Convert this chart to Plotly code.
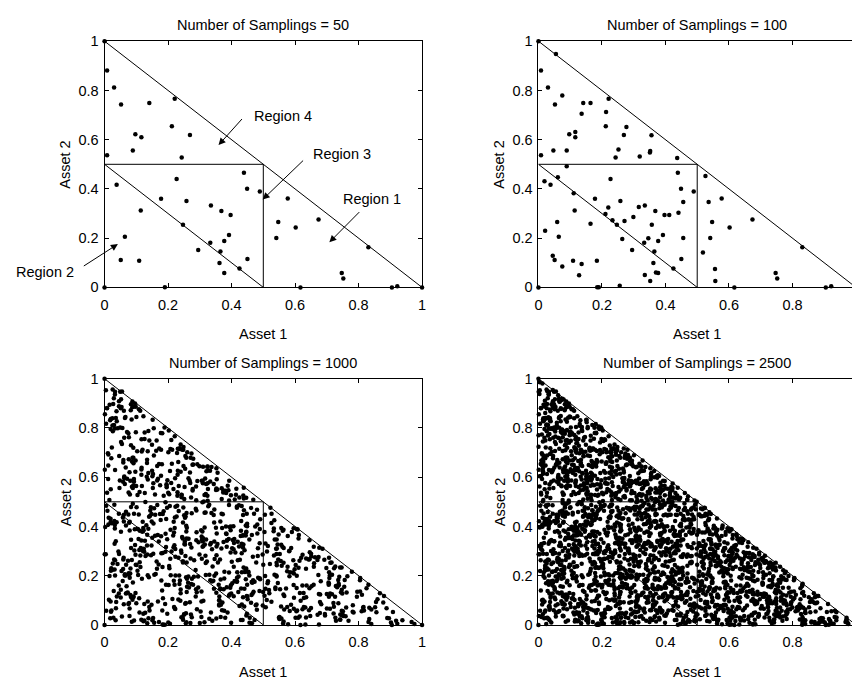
import numpy as np
import plotly.graph_objects as go

# ---------------- data ----------------
# vertices of the feasible triangle that appear as samples in every panel
corner_x = [0.0, 0.0, 1.0]
corner_y = [1.0, 0.0, 0.0]

# first 50 samplings (read from the "= 50" panel)
s50_x = [0.008, 0.030, 0.052, 0.141, 0.221, 0.212, 0.269, 0.097, 0.116, 0.089, 0.008, 0.243,
         0.439, 0.038, 0.227, 0.449, 0.178, 0.258, 0.114, 0.335, 0.368, 0.397, 0.247, 0.064,
         0.392, 0.333, 0.377, 0.295, 0.365, 0.051, 0.109, 0.362, 0.450, 0.425, 0.377, 0.190,
         0.577, 0.547, 0.602, 0.674, 0.541, 0.831, 0.747, 0.752, 0.617, 0.905, 0.922, 0.489]
s50_y = [0.881, 0.812, 0.743, 0.749, 0.766, 0.655, 0.619, 0.622, 0.610, 0.556, 0.537, 0.528,
         0.466, 0.417, 0.440, 0.401, 0.360, 0.351, 0.312, 0.333, 0.310, 0.294, 0.254, 0.206,
         0.213, 0.181, 0.188, 0.152, 0.146, 0.111, 0.108, 0.099, 0.115, 0.077, 0.058, 0.001,
         0.361, 0.266, 0.243, 0.276, 0.201, 0.163, 0.058, 0.036, 0.000, 0.000, 0.005, 0.390]

# samplings 51-100 (extra points visible in the "= 100" panel)
s100_x = [0.055, 0.075, 0.164, 0.136, 0.213, 0.277, 0.116, 0.356, 0.047, 0.252, 0.319, 0.352,
          0.351, 0.437, 0.089, 0.019, 0.061, 0.111, 0.220, 0.316, 0.456, 0.211, 0.412, 0.441,
          0.233, 0.271, 0.299, 0.164, 0.357, 0.059, 0.021, 0.264, 0.346, 0.456, 0.045, 0.075,
          0.136, 0.184, 0.128, 0.335, 0.370, 0.352, 0.185, 0.256, 0.526, 0.536, 0.518, 0.556,
          0.557]
s100_y = [0.948, 0.779, 0.749, 0.705, 0.712, 0.651, 0.631, 0.618, 0.556, 0.560, 0.532, 0.554,
          0.548, 0.526, 0.492, 0.431, 0.447, 0.382, 0.324, 0.327, 0.347, 0.298, 0.294, 0.303,
          0.273, 0.270, 0.286, 0.258, 0.254, 0.266, 0.230, 0.197, 0.200, 0.201, 0.128, 0.085,
          0.095, 0.108, 0.049, 0.050, 0.060, 0.026, 0.001, 0.007, 0.452, 0.347, 0.142, 0.075,
          0.026]

sample_counts = [50, 100, 1000, 2500]
panel_titles = ["Number of Samplings = %d" % n for n in sample_counts]

# The 1000 / 2500 panels are solid clouds whose individual dots cannot be read
# from the picture; they are filled (nested on the readable 100) with a fixed
# uniform draw over the triangle x + y <= 1.
rng = np.random.default_rng(11)
uv = rng.random((2500, 2))
flip = uv.sum(axis=1) > 1
uv[flip] = 1 - uv[flip]
dense_x = list(uv[:, 0])
dense_y = list(uv[:, 1])

base_x = corner_x + s50_x
base_y = corner_y + s50_y
p100_x = base_x + s100_x
p100_y = base_y + s100_y
n3 = sample_counts[2] - len(p100_x)
n4 = sample_counts[3] - sample_counts[2]
p1000_x = p100_x + dense_x[:n3]
p1000_y = p100_y + dense_y[:n3]
p2500_x = p1000_x + dense_x[n3:n3 + n4]
p2500_y = p1000_y + dense_y[n3:n3 + n4]
panel_x = [base_x, p100_x, p1000_x, p2500_x]
panel_y = [base_y, p100_y, p1000_y, p2500_y]

# region boundary segments
seg_outer = ([0, 1], [1, 0])
seg_h = ([0, 0.5], [0.5, 0.5])
seg_v = ([0.5, 0.5], [0, 0.5])
seg_inner = ([0, 0.5], [0.5, 0])

tick_vals = [0, 0.2, 0.4, 0.6, 0.8, 1]
tick_text = ["0", "0.2", "0.4", "0.6", "0.8", "1"]

# ---------------- layout geometry (pixels) ----------------
W, H = 856, 692
unit = 320.5
col_left = [101.5, 539.5]
row_top = [34.0, 379.5]
row_h = 252.0

FONT = "Liberation Sans, Arial, Helvetica, sans-serif"
FS = 14.5

fig = go.Figure()
layout = dict(width=W, height=H, margin=dict(l=0, r=0, t=0, b=0),
              paper_bgcolor="white", plot_bgcolor="white", showlegend=False,
              font=dict(family=FONT, size=FS, color="black"))

annotations = []
for i in range(4):
    r, c = divmod(i, 2)
    xa = "x" if i == 0 else "x%d" % (i + 1)
    ya = "y" if i == 0 else "y%d" % (i + 1)
    x0 = col_left[c]
    x1 = min(x0 + unit, W)
    xmax = (x1 - x0) / unit
    y0 = row_top[r]
    y1 = y0 + row_h
    dom_x = [x0 / W, x1 / W]
    dom_y = [(H - y1) / H, (H - y0) / H]
    full = (x0 + unit) <= W
    layout["xaxis" if i == 0 else "xaxis%d" % (i + 1)] = dict(
        domain=dom_x, range=[0, xmax], anchor=ya, showgrid=False, zeroline=False,
        showline=True, linecolor="black", linewidth=1, mirror="ticks",
        ticks="inside", ticklen=4, tickcolor="black", tickwidth=1,
        tickvals=tick_vals, ticktext=tick_text, tickfont=dict(size=FS, family=FONT),
        ticklabelstandoff=4, fixedrange=True)
    layout["yaxis" if i == 0 else "yaxis%d" % (i + 1)] = dict(
        domain=dom_y, range=[0, 1], anchor=xa, showgrid=False, zeroline=False,
        showline=True, linecolor="black", linewidth=1,
        mirror="ticks" if full else False,
        ticks="inside", ticklen=4, tickcolor="black", tickwidth=1,
        tickvals=tick_vals, ticktext=tick_text, tickfont=dict(size=FS, family=FONT),
        ticklabelstandoff=2, fixedrange=True)

    for sx, sy in (seg_outer, seg_h, seg_v, seg_inner):
        fig.add_trace(go.Scatter(x=sx, y=sy, mode="lines", xaxis=xa, yaxis=ya,
                                 line=dict(color="black", width=1), hoverinfo="skip"))
    fig.add_trace(go.Scatter(x=panel_x[i], y=panel_y[i], mode="markers", xaxis=xa, yaxis=ya,
                             cliponaxis=False,
                             marker=dict(color="black", size=4.5, line=dict(width=0))))

    cx = x0 + unit / 2
    annotations.append(dict(text=panel_titles[i], xref="paper", yref="paper",
                            x=cx / W, y=(H - (y0 - 16.5)) / H, showarrow=False,
                            xanchor="center", yanchor="middle", font=dict(size=FS)))
    annotations.append(dict(text="Asset 1", xref="paper", yref="paper",
                            x=cx / W, y=(H - (y1 + 48)) / H, showarrow=False,
                            xanchor="center", yanchor="middle", font=dict(size=FS)))
    annotations.append(dict(text="Asset 2", xref="paper", yref="paper",
                            x=(x0 - 39.5) / W, y=(H - (y0 + row_h / 2)) / H, showarrow=False,
                            textangle=-90, xanchor="center", yanchor="middle",
                            font=dict(size=FS)))

# region labels with arrows (panel 1), positions in panel-1 data units
p1_x0, p1_y1 = col_left[0], row_top[0] + row_h
region_labels = ["Region 4", "Region 3", "Region 1", "Region 2"]
label_pos = [(0.563, 0.696), (0.749, 0.542), (0.841, 0.361), (-0.187, 0.063)]
arrow_tail = [(0.437, 0.690), (0.630, 0.521), (0.807, 0.312), (-0.070, 0.083)]
arrow_tip = [(0.359, 0.578), (0.498, 0.357), (0.708, 0.183), (0.042, 0.176)]
for lab, (lx, ly), (tx, ty), (hx, hy) in zip(region_labels, label_pos, arrow_tail, arrow_tip):
    # text placed in paper space so labels outside the axes range still show
    px = p1_x0 + lx * unit
    py = p1_y1 - ly * row_h
    annotations.append(dict(text=lab, x=px / W, y=(H - py) / H, xref="paper", yref="paper",
                            showarrow=False, xanchor="center", yanchor="middle",
                            font=dict(size=FS)))
    annotations.append(dict(text="", x=hx, y=hy, xref="x", yref="y", ax=tx, ay=ty,
                            axref="x", ayref="y", showarrow=True, arrowhead=2,
                            arrowsize=1.4, arrowwidth=1, arrowcolor="black", standoff=0))

layout["annotations"] = annotations
fig.update_layout(**layout)
fig.write_html("out.html")
